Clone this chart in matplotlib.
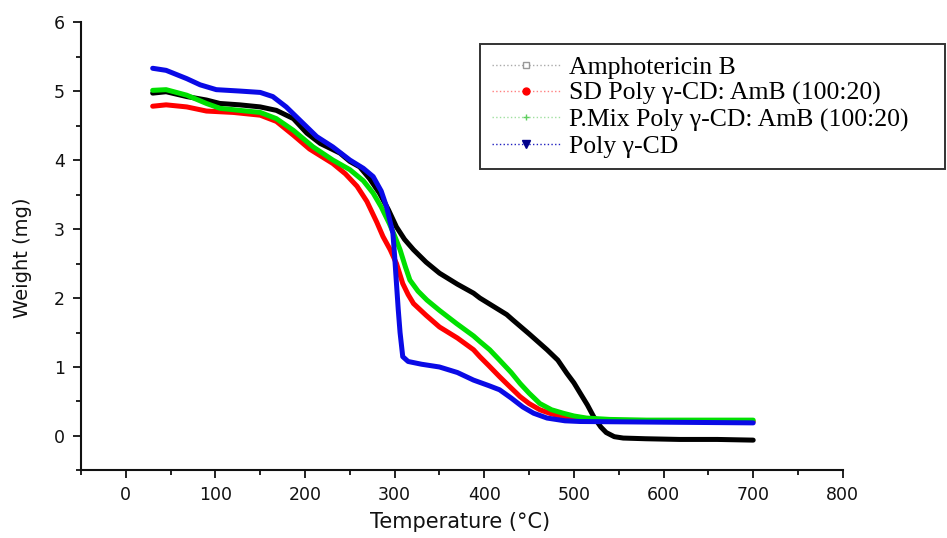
import matplotlib
matplotlib.use("Agg")
import matplotlib.pyplot as plt
from matplotlib.lines import Line2D
from matplotlib.ticker import MultipleLocator

# ---- data ----
amb_T = [30, 45, 68, 90, 105, 127, 150, 168, 187, 202, 217, 239, 250, 261, 272, 283, 293, 302,
         311, 321, 335, 350, 370, 388, 395, 410, 425, 432, 450, 470, 482, 492, 500, 507, 515,
         522, 530, 536, 545, 555, 580, 618, 660, 700]
amb_W = [4.97, 4.99, 4.92, 4.87, 4.82, 4.80, 4.77, 4.72, 4.60, 4.39, 4.24, 4.10, 3.98, 3.90,
         3.73, 3.52, 3.28, 3.03, 2.85, 2.70, 2.52, 2.36, 2.20, 2.07, 2.00, 1.88, 1.76, 1.68,
         1.48, 1.25, 1.10, 0.91, 0.77, 0.62, 0.45, 0.28, 0.13, 0.05, -0.01, -0.03, -0.04,
         -0.05, -0.05, -0.06]

sd_T = [30, 45, 68, 90, 120, 150, 168, 187, 205, 231, 245, 258, 269, 280, 287, 295, 302, 309,
        315, 321, 335, 350, 370, 388, 395, 405, 417, 428, 440, 450, 462, 475, 488, 500, 520,
        560, 700]
sd_W = [4.78, 4.80, 4.77, 4.71, 4.69, 4.65, 4.56, 4.36, 4.16, 3.95, 3.80, 3.62, 3.40, 3.10,
        2.89, 2.70, 2.50, 2.21, 2.05, 1.92, 1.75, 1.58, 1.42, 1.25, 1.15, 1.02, 0.86, 0.72,
        0.57, 0.47, 0.38, 0.32, 0.28, 0.25, 0.23, 0.22, 0.21]

pm_T = [30, 45, 68, 90, 105, 127, 150, 168, 187, 209, 231, 250, 265, 276, 285, 294, 300, 306,
        312, 317, 326, 336, 350, 369, 388, 395, 406, 417, 430, 440, 450, 462, 475, 488, 500,
        514, 540, 581, 650, 700]
pm_W = [5.01, 5.02, 4.94, 4.82, 4.75, 4.72, 4.69, 4.60, 4.43, 4.19, 4.00, 3.86, 3.70, 3.52,
        3.32, 3.08, 2.90, 2.70, 2.45, 2.26, 2.10, 1.97, 1.82, 1.63, 1.45, 1.37, 1.25, 1.10,
        0.92, 0.76, 0.62, 0.47, 0.38, 0.33, 0.29, 0.26, 0.24, 0.23, 0.23, 0.23]

pg_T = [30, 45, 68, 83, 101, 127, 150, 164, 179, 194, 213, 231, 250, 265, 276, 285, 291, 295,
        298, 300, 302, 304, 306, 309, 315, 330, 350, 370, 388, 405, 417, 430, 443, 455, 470,
        490, 507, 600, 700]
pg_W = [5.33, 5.30, 5.18, 5.09, 5.02, 5.00, 4.98, 4.92, 4.77, 4.58, 4.34, 4.19, 4.00, 3.88,
        3.76, 3.55, 3.32, 3.10, 2.94, 2.60, 2.21, 1.83, 1.50, 1.15, 1.08, 1.04, 1.00, 0.92,
        0.81, 0.73, 0.67, 0.55, 0.42, 0.33, 0.26, 0.22, 0.21, 0.20, 0.19]

labels = ["Amphotericin B", "SD Poly \u03b3-CD: AmB (100:20)",
          "P.Mix Poly \u03b3-CD: AmB (100:20)", "Poly \u03b3-CD"]
colors = ["#000000", "#ff0000", "#00e000", "#0a0ae6"]
x_ticks = [0, 100, 200, 300, 400, 500, 600, 700, 800]
y_ticks = [0, 1, 2, 3, 4, 5, 6]

plt.rcParams['font.family'] = ['DejaVu Sans']

fig = plt.figure(figsize=(9.47, 5.38), dpi=100)
ax = fig.add_axes([0.0855, 0.1255, 0.890 - 0.0855, 0.959 - 0.1255])

series = [(amb_T, amb_W), (sd_T, sd_W), (pm_T, pm_W), (pg_T, pg_W)]
for (t, w), c in zip(series, colors):
    ax.plot(t, w, color=c, lw=3.6, solid_capstyle='round', solid_joinstyle='round')

ax.set_xlim(-50, 800)
ax.set_ylim(-0.5, 6)
ax.set_xticks(x_ticks)
ax.set_yticks(y_ticks)
ax.xaxis.set_minor_locator(MultipleLocator(50))
ax.yaxis.set_minor_locator(MultipleLocator(0.5))
ax.tick_params(which='both', direction='out', width=1.3, labelsize=12.5, colors='#111111')
ax.tick_params(which='major', length=6, pad=5.5)
ax.tick_params(which='minor', length=3.3)
for s in ['top', 'right']:
    ax.spines[s].set_visible(False)
for s in ['left', 'bottom']:
    ax.spines[s].set_linewidth(1.5)
    ax.spines[s].set_color('#111111')

ax.set_xlabel("Temperature (\u00b0C)", fontsize=15, color='#111111')
ax.set_ylabel("Weight (mg)", fontsize=14, color='#111111')
ax.xaxis.set_label_coords(0.497, -0.092)
ax.yaxis.set_label_coords(-0.064, 0.474)

markers = [dict(marker='s', markersize=4, markerfacecolor='white', markeredgecolor='#999999', color='#aaaaaa'),
           dict(marker='o', markersize=5, markerfacecolor='#ff0000', markeredgecolor='#ff0000', color='#ff8080'),
           dict(marker='+', markersize=4, markeredgecolor='#60d060', color='#a0e0a0'),
           dict(marker='v', markersize=6, markerfacecolor='#00008b', markeredgecolor='#00008b', color='#2020c0')]
handles = [Line2D([0], [0], linestyle=':', lw=1, **m) for m in markers]

leg = fig.legend(handles, labels, loc='upper left',
                 bbox_to_anchor=(480 / 947, 1 - 44 / 538, (945 - 480) / 947, 0.0),
                 mode='expand', prop={'family': 'Liberation Serif', 'size': 18.5},
                 frameon=True, fancybox=False, edgecolor='#333333', framealpha=1,
                 handlelength=2.7, handletextpad=0.3, labelspacing=0.12,
                 borderpad=0.45, borderaxespad=0)
leg.get_frame().set_linewidth(1.4)

fig.savefig("out.png", dpi=100)
